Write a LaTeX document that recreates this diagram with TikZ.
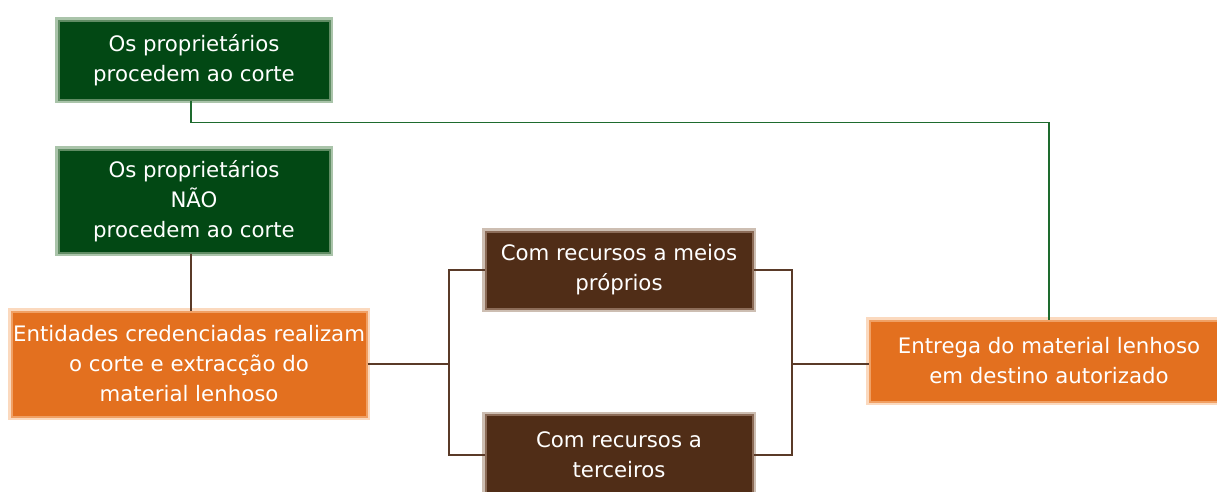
\documentclass[tikz,border=0pt]{standalone}
\usepackage{fontspec}
\setmainfont{DejaVu Sans}
\usepackage{tikz}
\usetikzlibrary{calc,positioning}
\definecolor{dkgreen}{RGB}{2,72,20}
\definecolor{ltgreen}{RGB}{170,196,170}
\definecolor{mdgreen}{RGB}{96,140,100}
\definecolor{dkorange}{RGB}{227,112,31}
\definecolor{ltorange}{RGB}{251,217,190}
\definecolor{mdorange}{RGB}{240,160,100}
\definecolor{dkbrown}{RGB}{80,45,23}
\definecolor{ltbrown}{RGB}{205,190,178}
\definecolor{mdbrown}{RGB}{140,108,88}
\definecolor{linegreen}{RGB}{30,107,46}
\definecolor{linebrown}{RGB}{90,58,40}
\tikzset{
    box/.style={
    rectangle,text=white,align=center,inner sep=0pt,line width=2pt
    },
    owner/.style={
    box,fill=dkgreen,draw=mdgreen,preaction={draw=ltgreen,line width=7pt}
    },
    entity/.style={
    box,fill=dkorange,draw=mdorange,preaction={draw=ltorange,line width=7pt}
    },
    means/.style={
    box,fill=dkbrown,draw=mdbrown,preaction={draw=ltbrown,line width=7pt}
    },
    gline/.style={
    draw=linegreen,line width=1.5pt
    },
    bline/.style={
    draw=linebrown,line width=1.5pt
    },
}

\begin{document}
\begin{tikzpicture}[x=1pt, y=-1pt, font=\fontsize{21.3}{30}\selectfont]
   \clip (0,0) rectangle (1217,491);
   \node[owner,minimum width=271pt,minimum height=79pt] (own) at (194,60) {Os proprietários\\procedem ao corte};
   \node[owner,minimum width=271pt,minimum height=103pt] (nown) at (194,201) {Os proprietários\\NÃO\\procedem ao corte};
   \node[entity,minimum width=355pt,minimum height=105pt] (ent) at (189,364) {Entidades credenciadas realizam\\o corte e extracção do\\material lenhoso};
   \node[means,minimum width=267pt,minimum height=77pt] (own2) at (619,270) {Com recursos a meios\\próprios};
   \node[means,minimum width=267pt,minimum height=80pt] (thr) at (619,455) {Com recursos a\\terceiros};
   \node[entity,minimum width=359pt,minimum height=81pt] (dst) at (1049,361) {Entrega do material lenhoso\\em destino autorizado};
   \coordinate (jl) at (449,364);
   \coordinate (jr) at (792,364);

  \path[gline] ([xshift=-3pt]own.south) -- ++(0,22) -| (dst.north);
  \path[bline]
    ([xshift=-3pt]nown.south) -- ([xshift=-3pt]nown.south |- ent.north)
    (ent.east) -- (jl)
    (own2.west) -| (jl) |- (thr.west)
    (own2.east) -| (jr) |- (thr.east)
    (jr) -- (jr -| dst.west);
\end{tikzpicture}
\end{document}
